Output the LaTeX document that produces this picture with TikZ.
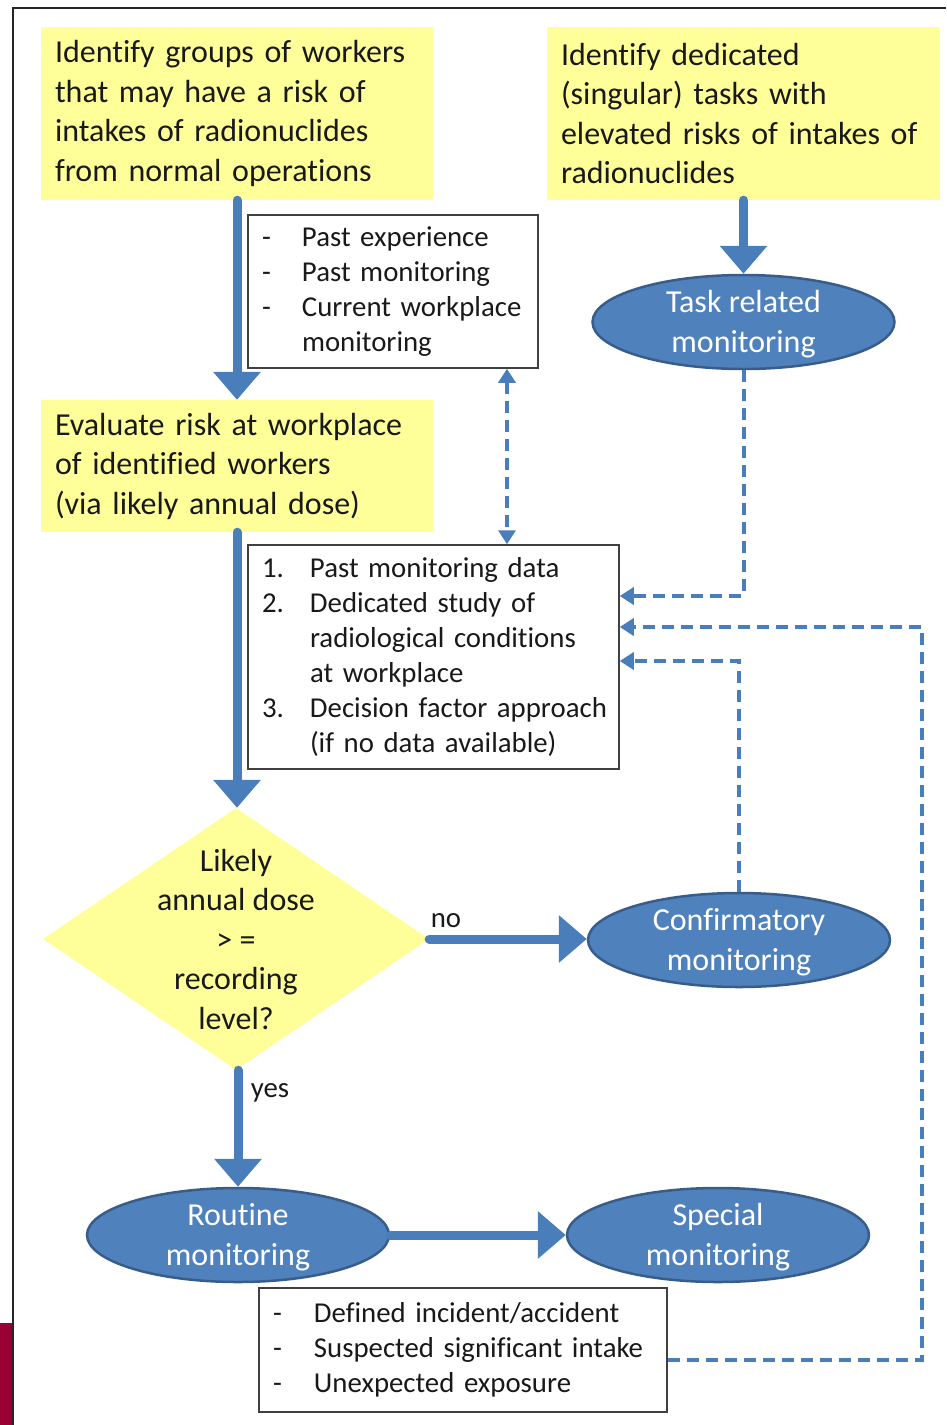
\documentclass[tikz,border=0pt]{standalone}
\usepackage{fontspec}
\setmainfont{Carlito}[Ligatures=CommonOff]
\usetikzlibrary{arrows.meta,shapes.geometric}

\definecolor{hiyellow}{RGB}{255,255,153}
\definecolor{flowblue}{RGB}{74,126,187}
\definecolor{ovalfill}{RGB}{79,129,189}
\definecolor{ovalline}{RGB}{56,93,138}
\definecolor{inktext}{RGB}{25,25,25}
\definecolor{sidebar}{RGB}{153,0,51}

% one line of a list: a fixed-width lead (dash or number) followed by the text
\newcommand\listline[3]{\makebox[#1][l]{#2}\mbox{#3}}
\newcommand\contline[2]{\hspace*{#1}\mbox{#2}}

\begin{document}
\begin{tikzpicture}[x=1pt,y=-1pt,
  bigfont/.style={font=\fontsize{32}{39.5}\selectfont},
  smallfont/.style={font=\fontsize{28.8}{35}\selectfont},
  ybox/.style={fill=hiyellow, bigfont, text=inktext, align=left,
    inner xsep=14pt, inner ysep=0pt},
  wbox/.style={draw=black!75, line width=1.5pt, fill=white, smallfont,
    text=inktext, align=left, inner xsep=14pt, inner ysep=0pt},
  oval/.style={ellipse, fill=ovalfill, draw=ovalline, line width=2.5pt,
    minimum width=302pt, minimum height=94pt, inner sep=0pt},
  ovaltext/.style={bigfont, text=white, align=center, inner sep=0pt},
  flow/.style={draw=flowblue, line width=9pt, line cap=round,
    -{Triangle[width=46pt,length=28pt]}},
  dashflow/.style={draw=flowblue, line width=4pt, dash pattern=on 12pt off 7pt,
    -{Triangle[width=17pt,length=14pt]}},
  ]
\useasboundingbox (0,0) rectangle (946,1425);

% page frame and side bar
\fill[sidebar] (0,1323) rectangle (12,1425);
\draw[line width=2pt, black!85] (13,1425) -- (13,8) -- (946,8);

% yellow process boxes
\node[ybox, text width=364pt, minimum height=173pt] (groups) at (237,113.5)
  {Identify groups of workers\\that may have a risk of\\intakes of radionuclides\\from normal operations};
\node[ybox, text width=365pt, minimum height=173pt] (tasks) at (743.5,113.5)
  {Identify dedicated\\(singular) tasks with\\elevated risks of intakes of\\radionuclides};
\node[ybox, text width=364pt, minimum height=132pt] (evaluate) at (237,466)
  {Evaluate risk at workplace\\of identified workers\\(via likely annual dose)};

% white information boxes
\node[wbox, text width=262pt, minimum height=153pt] (sources) at (393,291.5)
  {\listline{40pt}{-}{Past experience}\\
   \listline{40pt}{-}{Past monitoring}\\
   \listline{40pt}{-}{Current workplace}\\
   \contline{40pt}{monitoring}};
\node[wbox, text width=343pt, minimum height=224pt] (methods) at (433.5,657)
  {\listline{48pt}{1.}{Past monitoring data}\\
   \listline{48pt}{2.}{Dedicated study of}\\
   \contline{48pt}{radiological conditions}\\
   \contline{48pt}{at workplace}\\
   \listline{48pt}{3.}{Decision factor approach}\\
   \contline{48pt}{(if no data available)}};
\node[wbox, text width=380pt, minimum height=124pt] (triggers) at (463,1350)
  {\listline{41pt}{-}{Defined incident/accident}\\
   \listline{41pt}{-}{Suspected significant intake}\\
   \listline{41pt}{-}{Unexpected exposure}};

% decision diamond
\node[diamond, fill=hiyellow, minimum width=386pt, minimum height=262pt,
  inner sep=0pt] (decision) at (236,939) {};
\node[bigfont, text=inktext, align=center, inner sep=0pt] (decisiontext)
  at (decision.center) {Likely\\annual dose\\> =\\recording\\level?};

% monitoring ovals
\node[oval] (taskmon) at (743.5,322) {};
\node[ovaltext] (taskmontext) at ([yshift=-2pt]taskmon.center) {Task related\\monitoring};
\node[oval] (confmon) at (739,940) {};
\node[ovaltext] (confmontext) at ([yshift=-2pt]confmon.center) {Confirmatory\\monitoring};
\node[oval] (routmon) at (238,1235) {};
\node[ovaltext] (routmontext) at ([yshift=-2pt]routmon.center) {Routine\\monitoring};
\node[oval] (specmon) at (718,1235) {};
\node[ovaltext] (specmontext) at ([yshift=-2pt]specmon.center) {Special\\monitoring};

% branch labels
\node[smallfont, text=inktext, inner sep=0pt] (nolabel) at (446,921) {no};
\node[smallfont, text=inktext, inner sep=0pt] (yeslabel) at (270,1093) {yes};

% main flow
\draw[flow] (groups.south) -- (evaluate.north);
\draw[flow] (evaluate.south) -- (decision.north -| evaluate.south);
\draw[flow] (decision.south -| routmon.north) -- (routmon.north);
\draw[flow] (tasks.south) -- (taskmon.north);
\draw[flow] (decision.east) -- (decision.east -| confmon.west);
\draw[flow] (routmon.east) -- (specmon.west);

% feedback links
\coordinate (linkx) at (507,0);
\coordinate (returncorner) at (922,627);
\draw[dashflow, {Triangle[width=17pt,length=14pt]}-{Triangle[width=17pt,length=14pt]}]
  (sources.south -| linkx) -- (methods.north -| linkx);
\draw[dashflow] (taskmon.south) |- ([yshift=61pt]methods.east);
\draw[dashflow] ([yshift=-10pt]triggers.east) -| (returncorner) -- (returncorner -| methods.east);
\draw[dashflow] (confmon.north) |- ([yshift=-4pt]methods.east);
\end{tikzpicture}
\end{document}
